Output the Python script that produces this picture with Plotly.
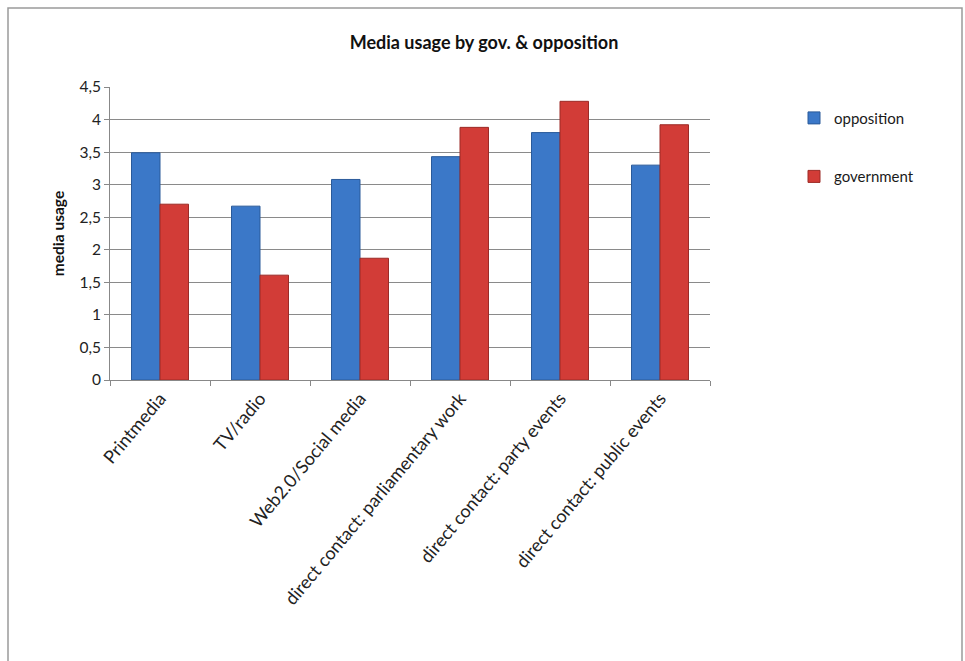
import plotly.graph_objects as go

# Media usage survey results
categories = [
    "Printmedia",
    "TV/radio",
    "Web2.0/Social media",
    "direct contact: parliamentary work",
    "direct contact: party events",
    "direct contact: public events",
]
opposition = [3.49, 2.67, 3.08, 3.43, 3.80, 3.30]
government = [2.70, 1.61, 1.87, 3.88, 4.28, 3.92]
y_ticks = [0, 0.5, 1, 1.5, 2, 2.5, 3, 3.5, 4, 4.5]

FONT = "Lato, 'Open Sans', sans-serif"

fig = go.Figure()
fig.add_trace(go.Bar(
    name="opposition", x=categories, y=opposition, legendgroup="a",
    marker=dict(color="#3b78c8", line=dict(color="#2a5a9a", width=1)),
))
fig.add_trace(go.Bar(
    name="government", x=categories, y=government, legendgroup="b",
    marker=dict(color="#d23c37", line=dict(color="#9c2a26", width=1)),
))

# outer chart frame
fig.add_shape(type="rect", xref="paper", yref="paper",
              x0=-0.17, x1=1.42, y0=-1.2, y1=1.27,
              line=dict(color="#9a9a9a", width=1.5), layer="below")

fig.update_layout(
    width=965, height=661,
    margin=dict(l=110, r=255, t=87, b=281),
    paper_bgcolor="white", plot_bgcolor="white",
    separators=", ",
    font=dict(family=FONT, size=15, color="#1a1a1a"),
    title=dict(text="<b>Media usage by gov. & opposition</b>",
               x=484 / 965, xanchor="center", y=1 - 43 / 661, yanchor="middle",
               font=dict(size=18, family=FONT, color="#111")),
    barmode="group", bargap=0.43, bargroupgap=0,
    showlegend=True,
    legend=dict(x=1.14, y=0.95, xanchor="left", yanchor="top",
                tracegroupgap=36, font=dict(size=15, family=FONT),
                itemwidth=30, bgcolor="rgba(0,0,0,0)"),
    xaxis=dict(
        tickangle=-50, tickson="boundaries", ticks="outside", ticklen=5,
        tickcolor="#888", showline=True, linecolor="#888", linewidth=1,
        tickfont=dict(size=18, family=FONT, color="#222"),
        showgrid=False,
    ),
    yaxis=dict(
        range=[0, 4.5], tickvals=y_ticks, ticks="outside", ticklen=5,
        tickcolor="#888", showline=True, linecolor="#888", linewidth=1,
        showgrid=True, gridcolor="#8a8a8a", gridwidth=1,
        tickfont=dict(size=15.5, family=FONT, color="#222"),
        title=dict(text="<b>media usage</b>", standoff=10,
                   font=dict(size=15.5, family=FONT, color="#111")),
        zeroline=False,
    ),
)

fig.write_html("out.html")
